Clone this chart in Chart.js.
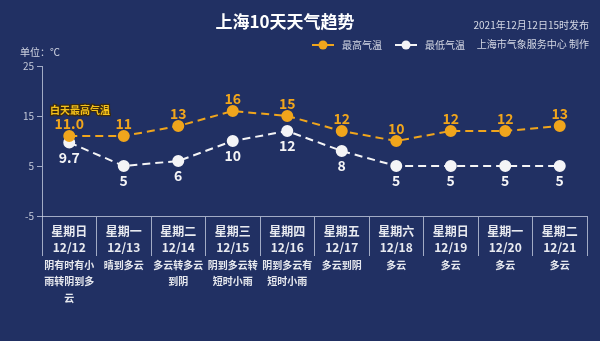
<!DOCTYPE html>
<html>
<head>
<meta charset="utf-8">
<title>上海10天天气趋势</title>
<script src="https://cdn.jsdelivr.net/npm/chart.js@4.4.0/dist/chart.umd.min.js"></script>
<style>
  html, body { margin: 0; padding: 0; background: #213063; }
  canvas { display: block; }
</style>
</head>
<body>
<canvas id="weatherChart" width="600" height="341"></canvas>
<script>
var weekdays = ['星期日', '星期一', '星期二', '星期三', '星期四', '星期五', '星期六', '星期日', '星期一', '星期二'];
var dates = ['12/12', '12/13', '12/14', '12/15', '12/16', '12/17', '12/18', '12/19', '12/20', '12/21'];
var highTemps = [11.0, 11, 13, 16, 15, 12, 10, 12, 12, 13];
var lowTemps = [9.7, 5, 6, 10, 12, 8, 5, 5, 5, 5];
var weather = ['阴有时有小雨转阴到多云', '晴到多云', '多云转多云到阴', '阴到多云转短时小雨', '阴到多云有短时小雨',
               '多云到阴', '多云', '多云', '多云', '多云'];
var yTicks = [-5, 5, 15, 25];

var BG = '#213063';
var ORANGE = '#f0a51c';
var WHITE = '#f4f4f6';
var FONT = '"Noto Sans CJK SC", "Noto Sans", sans-serif';

var highText = highTemps.map(function (v, i) { return i === 0 ? v.toFixed(1) : String(v); });
var lowText = lowTemps.map(function (v) { return String(v); });

// split the weather text into rows of five characters
function chunk(s, n) {
    var out = [];
    for (var i = 0; i < s.length; i += n) out.push(s.slice(i, i + n));
    return out;
}

var decor = {
    id: 'decor',
    beforeDraw: function (chart) {
        var c = chart.ctx;
        c.save();
        c.fillStyle = BG;
        c.fillRect(0, 0, chart.width, chart.height);
        c.restore();
    },
    afterDatasetsDraw: function (chart) {
        var c = chart.ctx;
        c.save();
        c.textAlign = 'center';
        c.textBaseline = 'middle';
        c.font = 'bold 14px ' + FONT;

        // value labels: highs above, lows below
        var hi = chart.getDatasetMeta(0).data;
        var lo = chart.getDatasetMeta(1).data;
        c.fillStyle = ORANGE;
        hi.forEach(function (p, i) { c.fillText(highText[i], p.x, p.y - 12); });
        c.fillStyle = WHITE;
        lo.forEach(function (p, i) { c.fillText(lowText[i], p.x, p.y + 15); });

        // weather description under each day
        var xs = chart.scales.x;
        c.font = 'bold 10px ' + FONT;
        c.fillStyle = '#e6e8ee';
        weather.forEach(function (w, i) {
            var x = xs.getPixelForValue(i);
            chunk(w, 5).forEach(function (line, k) {
                c.fillText(line, x, 265 + k * 16.5);
            });
        });

        // title
        c.font = 'bold 17px ' + FONT;
        c.fillStyle = '#ffffff';
        c.fillText('上海10天天气趋势', 285, 22);

        // unit + release info
        c.font = '10px ' + FONT;
        c.fillStyle = '#d4d8e4';
        c.textAlign = 'left';
        c.fillText('单位：℃', 20, 52);
        c.textAlign = 'right';
        c.fillText('2021年12月12日15时发布', 589, 25);
        c.fillText('上海市气象服务中心 制作', 589, 44);

        // legend
        c.textAlign = 'left';
        [[312, ORANGE, '最高气温'], [395, WHITE, '最低气温']].forEach(function (item) {
            var x = item[0], y = 45;
            c.strokeStyle = item[1];
            c.lineWidth = 2;
            c.beginPath();
            c.moveTo(x, y);
            c.lineTo(x + 22, y);
            c.stroke();
            c.fillStyle = item[1];
            c.beginPath();
            c.arc(x + 11, y, 4.5, 0, Math.PI * 2);
            c.fill();
            c.fillStyle = '#d4d8e4';
            c.fillText(item[2], x + 30, y);
        });

        // daytime max tag
        c.font = 'bold 10px ' + FONT;
        c.lineWidth = 2.5;
        c.strokeStyle = '#3a2a10';
        c.strokeText('白天最高气温', 50, 110);
        c.fillStyle = '#f6c21a';
        c.fillText('白天最高气温', 50, 110);
        c.restore();
    }
};

var ctx = document.getElementById('weatherChart').getContext('2d');
var myChart = new Chart(ctx, {
    type: 'line',
    data: {
        labels: weekdays.map(function (d, i) { return [d, dates[i]]; }),
        datasets: [{
            label: '最高气温',
            data: highTemps,
            borderColor: ORANGE,
            backgroundColor: ORANGE,
            pointBackgroundColor: ORANGE,
            pointBorderColor: ORANGE,
            borderWidth: 2,
            borderDash: [8, 5],
            pointRadius: 5,
            tension: 0
        }, {
            label: '最低气温',
            data: lowTemps,
            borderColor: WHITE,
            backgroundColor: WHITE,
            pointBackgroundColor: WHITE,
            pointBorderColor: WHITE,
            borderWidth: 2,
            borderDash: [8, 5],
            pointRadius: 5,
            tension: 0
        }]
    },
    options: {
        responsive: false,
        animation: false,
        layout: { padding: { left: 0, right: 13, top: 66, bottom: 0 } },
        plugins: {
            legend: { display: false },
            tooltip: { enabled: false }
        },
        scales: {
            x: {
                offset: true,
                afterFit: function (s) { s.height = 125; },
                grid: {
                    offset: true,
                    drawOnChartArea: false,
                    tickLength: 40,
                    color: 'rgba(205,212,230,0.75)'
                },
                border: { color: 'rgba(205,212,230,0.75)' },
                ticks: {
                    padding: -33,
                    color: '#e8eaf0',
                    maxRotation: 0,
                    autoSkip: false,
                    font: { family: FONT, size: 12, weight: 'bold', lineHeight: 1.35 }
                }
            },
            y: {
                min: -5,
                max: 25,
                afterFit: function (s) { s.width = 42; },
                afterBuildTicks: function (s) {
                    s.ticks = yTicks.map(function (v) { return { value: v }; });
                },
                grid: {
                    drawOnChartArea: false,
                    tickLength: 5,
                    color: 'rgba(205,212,230,0.75)'
                },
                border: { color: 'rgba(205,212,230,0.75)' },
                ticks: {
                    padding: 3,
                    color: '#c4c9d8',
                    font: { family: FONT, size: 10 }
                }
            }
        }
    },
    plugins: [decor]
});
</script>
</body>
</html>
